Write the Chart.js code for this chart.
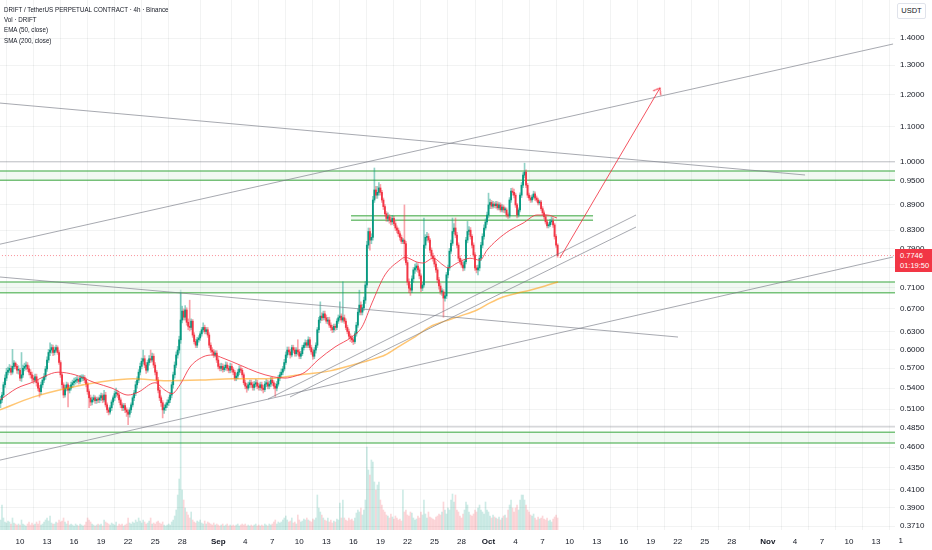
<!DOCTYPE html>
<html><head><meta charset="utf-8">
<script src="https://cdn.jsdelivr.net/npm/chart.js@4.4.1/dist/chart.umd.min.js"></script>
<style>
html,body{margin:0;padding:0;background:#fff;}
#wrap{position:relative;width:932px;height:550px;overflow:hidden;font-family:"Liberation Sans",Arial,sans-serif;}
#c{position:absolute;left:0;top:0;}
#hdr{position:absolute;left:4px;top:5px;font-size:7.6px;line-height:10.2px;color:#131722;white-space:nowrap;transform:scaleX(0.82);transform-origin:0 0;}
#unit{position:absolute;left:897px;top:3px;width:27px;height:14px;border:1px solid #e0e3eb;border-radius:2px;font-size:7.5px;line-height:14px;text-align:center;color:#131722;background:#fff;}
#plabel{position:absolute;left:895px;width:37px;height:23px;background:#f23645;color:#fff;font-size:7.5px;line-height:10px;padding:2px 0 0 5px;box-sizing:border-box;}
#cut{position:absolute;left:895px;width:8px;overflow:hidden;font-size:8px;line-height:10px;color:#131722;white-space:nowrap;}
#cut span{position:relative;}
</style></head><body>
<div id="wrap"><canvas id="c" width="932" height="550"></canvas>
<div id="hdr">DRIFT / TetherUS PERPETUAL CONTRACT · 4h · Binance<br>Vol · DRIFT<br>EMA (50, close)<br>SMA (200, close)</div>
<div id="unit">USDT</div>
<div id="plabel"><div id="pv"></div><div id="pt">01:19:50</div></div>
<div id="cut"><span id="cutl"></span></div>
</div>
<script>
// ---- time axis (days from Aug 10, 4h candles) ----
const firstCandleDay = -13/6;          // Aug 7, 20:00
const tickDays   = [0,3,6,9,12,15,18,22,25,28,31,34,37,40,43,46,49,52,55,58,61,64,67,70,73,76,79,83,86,89,92,95];
const tickLabels = ['10','13','16','19','22','25','28','Sep','4','7','10','13','16','19','22','25','28','Oct','4','7','10','13','16','19','22','25','28','Nov','4','7','10','13'];
const edgeTickDay = 98, edgeTickLabel = '16';   // cut off by the price scale
const priceTicks = [1.4,1.3,1.2,1.1,1.0,0.95,0.89,0.83,0.79,0.75,0.71,0.67,0.63,0.60,0.57,0.54,0.51,0.485,0.46,0.435,0.41,0.39,0.371];

// ---- candles ----
const opens = [
0.518,0.523,0.530,0.545,0.555,0.564, 0.567,0.570,0.564,0.573,0.578,0.573, 0.567,0.567,0.555,0.560,0.570,0.573,
0.575,0.569,0.564,0.560,0.555,0.552, 0.557,0.548,0.540,0.535,0.545,0.552, 0.557,0.569,0.583,0.595,0.599,0.603,
0.595,0.599,0.603,0.595,0.579,0.560, 0.545,0.530,0.540,0.545,0.537,0.540, 0.545,0.548,0.550,0.552,0.553,0.550,
0.555,0.555,0.556,0.552,0.546,0.535, 0.526,0.520,0.523,0.526,0.522,0.524, 0.523,0.526,0.529,0.523,0.530,0.516,
0.509,0.506,0.512,0.520,0.526,0.532, 0.533,0.530,0.523,0.516,0.512,0.515, 0.509,0.506,0.503,0.509,0.516,0.526,
0.533,0.545,0.552,0.564,0.573,0.581, 0.585,0.575,0.567,0.579,0.585,0.583, 0.589,0.575,0.564,0.552,0.537,0.526,
0.519,0.509,0.512,0.516,0.519,0.523, 0.530,0.545,0.560,0.575,0.591,0.599, 0.616,0.650,0.666,0.655,0.668,0.646,
0.639,0.637,0.648,0.624,0.613,0.607, 0.616,0.619,0.626,0.633,0.637,0.630, 0.633,0.624,0.607,0.599,0.596,0.591,
0.594,0.583,0.573,0.570,0.573,0.568, 0.571,0.575,0.570,0.567,0.573,0.568, 0.564,0.555,0.558,0.564,0.569,0.567,
0.560,0.548,0.543,0.540,0.545,0.548, 0.545,0.541,0.546,0.548,0.543,0.541, 0.545,0.540,0.538,0.546,0.548,0.543,
0.546,0.552,0.548,0.543,0.540,0.546, 0.555,0.560,0.564,0.569,0.579,0.591, 0.599,0.596,0.591,0.603,0.599,0.593,
0.599,0.596,0.589,0.593,0.603,0.607, 0.611,0.607,0.616,0.603,0.596,0.589, 0.599,0.607,0.633,0.650,0.657,0.654,
0.661,0.654,0.648,0.650,0.641,0.637, 0.633,0.639,0.637,0.648,0.654,0.657, 0.650,0.654,0.648,0.637,0.630,0.622,
0.619,0.616,0.613,0.626,0.641,0.664, 0.677,0.664,0.672,0.686,0.715,0.797, 0.827,0.808,0.814,0.901,0.926,0.913,
0.920,0.931,0.920,0.901,0.885,0.868, 0.857,0.861,0.853,0.849,0.857,0.845, 0.835,0.830,0.822,0.814,0.805,0.808,
0.800,0.760,0.721,0.709,0.705,0.727, 0.745,0.749,0.753,0.745,0.733,0.709, 0.715,0.797,0.814,0.816,0.808,0.786,
0.774,0.769,0.757,0.745,0.725,0.713, 0.702,0.702,0.690,0.694,0.735,0.749, 0.784,0.801,0.827,0.835,0.819,0.797,
0.769,0.762,0.755,0.749,0.762,0.808, 0.827,0.830,0.816,0.797,0.776,0.749, 0.745,0.749,0.769,0.797,0.816,0.835,
0.849,0.865,0.889,0.895,0.886,0.891, 0.887,0.891,0.882,0.889,0.877,0.884, 0.877,0.877,0.865,0.863,0.901,0.923,
0.920,0.913,0.889,0.865,0.877,0.913, 0.938,0.964,0.972,0.938,0.913,0.906, 0.901,0.908,0.916,0.906,0.901,0.894,
0.896,0.880,0.870,0.861,0.849,0.840, 0.842,0.849,0.851,0.842,0.816,0.797];
const highs = [
0.528,0.534,0.549,0.560,0.570,0.572, 0.576,0.574,0.600,0.582,0.580,0.576, 0.574,0.570,0.595,0.575,0.578,0.580,
0.579,0.574,0.568,0.564,0.559,0.561, 0.561,0.552,0.544,0.549,0.556,0.562, 0.573,0.588,0.600,0.611,0.608,0.607,
0.604,0.607,0.606,0.598,0.582,0.563, 0.548,0.544,0.549,0.548,0.544,0.549, 0.552,0.555,0.556,0.558,0.556,0.559,
0.560,0.560,0.559,0.555,0.549,0.538, 0.530,0.527,0.530,0.529,0.527,0.527, 0.530,0.533,0.532,0.537,0.534,0.519,
0.512,0.515,0.523,0.529,0.536,0.540, 0.537,0.533,0.526,0.519,0.518,0.518, 0.512,0.509,0.512,0.519,0.529,0.537,
0.550,0.557,0.568,0.578,0.586,0.599, 0.590,0.579,0.583,0.590,0.599,0.594, 0.593,0.579,0.567,0.556,0.541,0.529,
0.522,0.516,0.519,0.523,0.527,0.534, 0.549,0.564,0.580,0.596,0.605,0.622, 0.700,0.675,0.670,0.676,0.672,0.652,
0.686,0.652,0.651,0.628,0.617,0.620, 0.623,0.630,0.637,0.645,0.641,0.637, 0.637,0.628,0.611,0.603,0.600,0.598,
0.598,0.587,0.577,0.578,0.577,0.575, 0.580,0.579,0.574,0.578,0.577,0.571, 0.567,0.562,0.568,0.574,0.573,0.570,
0.563,0.552,0.547,0.549,0.552,0.552, 0.549,0.550,0.553,0.552,0.547,0.549, 0.549,0.544,0.550,0.553,0.552,0.550,
0.556,0.556,0.551,0.547,0.550,0.559, 0.564,0.569,0.573,0.584,0.596,0.604, 0.604,0.600,0.607,0.607,0.603,0.603,
0.616,0.600,0.597,0.607,0.611,0.616, 0.615,0.621,0.620,0.607,0.600,0.603, 0.611,0.637,0.655,0.683,0.663,0.666,
0.666,0.659,0.655,0.655,0.645,0.641, 0.643,0.643,0.652,0.659,0.683,0.661, 0.721,0.659,0.652,0.641,0.634,0.626,
0.623,0.620,0.630,0.646,0.670,0.705, 0.683,0.678,0.692,0.722,0.805,0.835, 0.835,0.822,0.910,0.983,0.935,0.935,
0.945,0.940,0.925,0.906,0.890,0.873, 0.870,0.866,0.860,0.864,0.862,0.850, 0.840,0.835,0.827,0.819,0.812,0.889,
0.805,0.765,0.727,0.716,0.733,0.750, 0.757,0.760,0.758,0.749,0.737,0.720, 0.858,0.820,0.825,0.822,0.812,0.791,
0.780,0.774,0.762,0.750,0.730,0.718, 0.708,0.706,0.700,0.740,0.755,0.790, 0.808,0.858,0.845,0.858,0.825,0.802,
0.774,0.768,0.760,0.767,0.814,0.850, 0.838,0.836,0.820,0.802,0.781,0.754, 0.755,0.775,0.803,0.822,0.842,0.856,
0.872,0.918,0.903,0.900,0.898,0.896, 0.898,0.897,0.895,0.894,0.890,0.889, 0.884,0.882,0.870,0.907,0.930,0.931,
0.928,0.918,0.893,0.882,0.919,0.945, 0.971,0.996,0.978,0.943,0.918,0.912, 0.914,0.923,0.921,0.911,0.906,0.901,
0.900,0.885,0.875,0.866,0.853,0.847, 0.855,0.860,0.858,0.846,0.820,0.800];
const lows = [
0.512,0.519,0.527,0.541,0.551,0.560, 0.563,0.560,0.561,0.569,0.569,0.562, 0.561,0.551,0.550,0.556,0.566,0.568,
0.565,0.560,0.555,0.550,0.547,0.549, 0.543,0.536,0.527,0.531,0.541,0.548, 0.553,0.565,0.579,0.590,0.594,0.590,
0.591,0.596,0.592,0.576,0.556,0.540, 0.526,0.527,0.536,0.513,0.533,0.537, 0.541,0.544,0.546,0.548,0.546,0.547,
0.550,0.551,0.548,0.542,0.531,0.512, 0.515,0.516,0.520,0.518,0.518,0.519, 0.519,0.522,0.519,0.520,0.513,0.505,
0.502,0.503,0.508,0.516,0.522,0.528, 0.526,0.519,0.512,0.508,0.508,0.505, 0.500,0.489,0.499,0.505,0.513,0.522,
0.529,0.540,0.548,0.560,0.569,0.577, 0.571,0.562,0.564,0.575,0.579,0.580, 0.571,0.560,0.548,0.533,0.522,0.514,
0.498,0.504,0.508,0.512,0.515,0.519, 0.526,0.540,0.555,0.571,0.586,0.594, 0.610,0.645,0.650,0.650,0.641,0.633,
0.631,0.633,0.620,0.609,0.603,0.603, 0.612,0.615,0.622,0.629,0.626,0.626, 0.620,0.603,0.595,0.591,0.587,0.588,
0.579,0.569,0.566,0.566,0.564,0.565, 0.567,0.566,0.563,0.563,0.564,0.560, 0.551,0.551,0.554,0.560,0.563,0.556,
0.545,0.539,0.534,0.537,0.541,0.541, 0.537,0.537,0.542,0.539,0.537,0.537, 0.536,0.533,0.535,0.542,0.539,0.539,
0.542,0.544,0.539,0.528,0.536,0.543, 0.551,0.556,0.560,0.566,0.576,0.587, 0.592,0.586,0.588,0.595,0.589,0.589,
0.591,0.585,0.585,0.590,0.599,0.603, 0.603,0.603,0.599,0.592,0.584,0.585, 0.594,0.603,0.628,0.645,0.649,0.650,
0.650,0.644,0.643,0.637,0.632,0.628, 0.629,0.632,0.633,0.644,0.650,0.646, 0.646,0.644,0.633,0.626,0.618,0.613,
0.611,0.608,0.610,0.622,0.637,0.659, 0.659,0.659,0.667,0.680,0.710,0.790, 0.786,0.800,0.808,0.895,0.905,0.905,
0.913,0.913,0.895,0.878,0.862,0.850, 0.850,0.846,0.842,0.843,0.840,0.829, 0.824,0.816,0.808,0.800,0.800,0.765,
0.755,0.715,0.700,0.695,0.700,0.720, 0.738,0.742,0.740,0.727,0.702,0.704, 0.711,0.790,0.806,0.803,0.781,0.768,
0.763,0.751,0.740,0.719,0.707,0.697, 0.695,0.655,0.684,0.689,0.729,0.744, 0.779,0.796,0.822,0.813,0.791,0.764,
0.757,0.750,0.743,0.744,0.757,0.802, 0.820,0.810,0.791,0.771,0.744,0.739, 0.735,0.743,0.764,0.791,0.810,0.830,
0.843,0.858,0.880,0.880,0.881,0.882, 0.881,0.877,0.877,0.872,0.872,0.871, 0.870,0.860,0.857,0.858,0.895,0.913,
0.906,0.883,0.858,0.860,0.872,0.907, 0.932,0.957,0.932,0.907,0.900,0.895, 0.896,0.903,0.900,0.896,0.889,0.889,
0.876,0.865,0.856,0.844,0.835,0.835, 0.838,0.843,0.836,0.810,0.792,0.771];
const closes = [
0.523,0.530,0.545,0.555,0.564,0.567, 0.570,0.564,0.573,0.578,0.573,0.567, 0.567,0.555,0.560,0.570,0.573,0.575,
0.569,0.564,0.560,0.555,0.552,0.557, 0.548,0.540,0.535,0.545,0.552,0.557, 0.569,0.583,0.595,0.599,0.603,0.595,
0.599,0.603,0.595,0.579,0.560,0.545, 0.530,0.540,0.545,0.537,0.540,0.545, 0.548,0.550,0.552,0.553,0.550,0.555,
0.555,0.556,0.552,0.546,0.535,0.526, 0.520,0.523,0.526,0.522,0.524,0.523, 0.526,0.529,0.523,0.530,0.516,0.509,
0.506,0.512,0.520,0.526,0.532,0.533, 0.530,0.523,0.516,0.512,0.515,0.509, 0.506,0.503,0.509,0.516,0.526,0.533,
0.545,0.552,0.564,0.573,0.581,0.585, 0.575,0.567,0.579,0.585,0.583,0.589, 0.575,0.564,0.552,0.537,0.526,0.519,
0.509,0.512,0.516,0.519,0.523,0.530, 0.545,0.560,0.575,0.591,0.599,0.616, 0.650,0.666,0.655,0.668,0.646,0.639,
0.637,0.648,0.624,0.613,0.607,0.616, 0.619,0.626,0.633,0.637,0.630,0.633, 0.624,0.607,0.599,0.596,0.591,0.594,
0.583,0.573,0.570,0.573,0.568,0.571, 0.575,0.570,0.567,0.573,0.568,0.564, 0.555,0.558,0.564,0.569,0.567,0.560,
0.548,0.543,0.540,0.545,0.548,0.545, 0.541,0.546,0.548,0.543,0.541,0.545, 0.540,0.538,0.546,0.548,0.543,0.546,
0.552,0.548,0.543,0.540,0.546,0.555, 0.560,0.564,0.569,0.579,0.591,0.599, 0.596,0.591,0.603,0.599,0.593,0.599,
0.596,0.589,0.593,0.603,0.607,0.611, 0.607,0.616,0.603,0.596,0.589,0.599, 0.607,0.633,0.650,0.657,0.654,0.661,
0.654,0.648,0.650,0.641,0.637,0.633, 0.639,0.637,0.648,0.654,0.657,0.650, 0.654,0.648,0.637,0.630,0.622,0.619,
0.616,0.613,0.626,0.641,0.664,0.677, 0.664,0.672,0.686,0.715,0.797,0.827, 0.808,0.814,0.901,0.926,0.913,0.920,
0.931,0.920,0.901,0.885,0.868,0.857, 0.861,0.853,0.849,0.857,0.845,0.835, 0.830,0.822,0.814,0.805,0.808,0.800,
0.760,0.721,0.709,0.705,0.727,0.745, 0.749,0.753,0.745,0.733,0.709,0.715, 0.797,0.814,0.816,0.808,0.786,0.774,
0.769,0.757,0.745,0.725,0.713,0.702, 0.702,0.690,0.694,0.735,0.749,0.784, 0.801,0.827,0.835,0.819,0.797,0.769,
0.762,0.755,0.749,0.762,0.808,0.827, 0.830,0.816,0.797,0.776,0.749,0.745, 0.749,0.769,0.797,0.816,0.835,0.849,
0.865,0.889,0.895,0.886,0.891,0.887, 0.891,0.882,0.889,0.877,0.884,0.877, 0.877,0.865,0.863,0.901,0.923,0.920,
0.913,0.889,0.865,0.877,0.913,0.938, 0.964,0.972,0.938,0.913,0.906,0.901, 0.908,0.916,0.906,0.901,0.894,0.896,
0.880,0.870,0.861,0.849,0.840,0.842, 0.849,0.851,0.842,0.816,0.797,0.7746];
const volumes = [
10,25,12,8,7,9, 8,6,12,7,6,5, 6,5,10,6,5,4, 6,8,5,7,5,6, 8,6,9,5,6,8, 10,12,9,14,7,6,
6,8,7,10,8,9, 12,8,6,9,5,6, 5,4,6,5,4,6, 5,4,5,8,12,10, 8,6,5,4,5,6, 5,6,4,10,8,7,
6,5,7,6,5,8, 4,6,5,6,4,5, 6,12,7,6,8,7, 10,8,12,9,7,10, 8,6,7,9,12,6, 7,6,8,9,7,6,
8,5,4,5,6,5, 8,10,14,20,35,51, 240,40,30,22,18,15, 12,18,10,8,7,9, 8,10,7,6,9,6, 8,7,6,5,7,5,
6,5,4,5,6,4, 5,6,4,5,4,5, 4,5,6,4,5,6, 5,6,4,5,4,5, 4,5,6,4,5,4, 5,4,6,5,4,6,
5,6,8,10,6,8, 7,8,10,12,14,10, 8,9,12,7,8,6, 15,10,8,9,11,10, 12,10,9,8,11,10, 12,35,22,18,15,12,
10,9,12,8,10,7, 9,8,11,10,27,12, 30,12,10,9,12,10, 11,9,12,17,20,18, 22,15,20,30,83,60, 55,70,68,48,40,45,
48,30,25,20,18,15, 14,12,16,13,11,14, 12,10,11,9,40,18, 20,15,14,18,17,12, 10,11,14,12,18,15, 30,16,12,18,13,12,
11,10,13,14,16,15, 18,28,20,16,22,20, 30,36,28,35,20,18, 14,12,16,20,28,25, 18,15,14,16,20,18, 22,25,20,18,16,28,
20,18,14,12,15,13, 12,11,13,10,12,14, 15,12,20,25,30,22, 18,22,25,20,30,35, 35,30,25,20,18,15, 14,16,12,10,13,11,
12,14,11,10,12,9, 10,8,11,13,15,12];

// ---- indicators (day, price) ----
const emaDays = [-2.22,-0.33,1.44,2.77,4.22,6.10,8.32,10.21,11.99,13.10,14.98,16.09,16.87,17.76,18.87,20.31,21.42,22.53,24.42,26.30,28.08,29.41,30.52,31.63,33.07,34.96,36.85,37.96,39.07,40.51,42.18,42.73,44.06,44.73,45.84,46.95,47.50,48.50,49.94,51.05,51.83,52.94,54.38,55.83,57.38,58.49,59.60];
const emaVals = [0.523,0.540,0.549,0.558,0.564,0.560,0.548,0.540,0.530,0.534,0.548,0.537,0.532,0.545,0.572,0.588,0.591,0.586,0.575,0.564,0.557,0.555,0.558,0.564,0.583,0.604,0.621,0.638,0.681,0.735,0.765,0.771,0.761,0.759,0.769,0.755,0.749,0.759,0.769,0.765,0.786,0.808,0.830,0.846,0.865,0.865,0.858];
const smaDays = [-2.22,1.44,5.22,8.88,12.54,16.32,19.98,23.64,27.41,31.08,34.41,36.63,38.85,40.51,42.18,43.84,45.50,47.17,48.83,50.72,52.16,53.61,55.16,56.60,58.27,59.71];
const smaVals = [0.509,0.527,0.540,0.549,0.554,0.551,0.552,0.554,0.554,0.560,0.566,0.574,0.583,0.591,0.606,0.621,0.638,0.648,0.657,0.668,0.681,0.692,0.699,0.705,0.713,0.721];

// ---- drawings: [day1, price1, day2, price2] ----
const trendLines = [
  [-2.22,0.799, 96.9,1.3775],
  [-2.22,1.173, 87.13,0.9645],
  [-2.22,0.7307, 73.03,0.6206],
  [-2.22,0.444, 96.9,0.7716],
  [27.53,0.5243, 68.37,0.865],
  [29.97,0.5272, 68.37,0.8372]
];
const levelLines = [1.0, 0.4865];
const zones = [ // [dayFrom, dayTo, top, bottom]
  [-3,100,0.975,0.951],
  [-3,100,0.721,0.700],
  [-3,100,0.479,0.465],
  [36.74,63.6,0.863,0.853]
];
const arrowLine = [59.93,0.7695, 71.03,1.222];
const lastPrice = 0.7746;

// ---- build ----
const UP='#089981', DN='#f23645';
const candleDays = closes.map((_,i)=>firstCandleDay + i/6);
const isUp = closes.map((c,i)=>c>=opens[i]);
const monthTicks = new Set([22,52,83]);

const ds = [];
zones.forEach(z=>{
  ds.push({type:'line',data:[{x:z[0],y:z[2]},{x:z[1],y:z[2]}],borderColor:'rgba(76,175,80,0.75)',borderWidth:1.5,pointRadius:0,
    fill:{value:z[3]},backgroundColor:'rgba(76,175,80,0.07)',order:20});
  ds.push({type:'line',data:[{x:z[0],y:z[3]},{x:z[1],y:z[3]}],borderColor:'rgba(76,175,80,0.75)',borderWidth:1.5,pointRadius:0,fill:false,order:20});
});
levelLines.forEach(v=>{
  ds.push({type:'line',data:[{x:-3,y:v},{x:100,y:v}],borderColor:'rgba(120,123,134,0.3)',borderWidth:1.5,pointRadius:0,fill:false,order:19});
});
ds.push({type:'line',data:[{x:-3,y:lastPrice},{x:100,y:lastPrice}],borderColor:'rgba(242,54,69,0.55)',borderWidth:1,borderDash:[1,2],pointRadius:0,fill:false,order:18});
ds.push({type:'bar',yAxisID:'yv',data:candleDays.map((d,i)=>({x:d,y:volumes[i]})),
  backgroundColor:isUp.map(u=>u?'rgba(8,153,129,0.2)':'rgba(242,54,69,0.2)'),barThickness:1,grouped:false,order:17});
ds.push({type:'bar',yAxisID:'y',data:candleDays.map((d,i)=>({x:d,y:[Math.min(lows[i],opens[i],closes[i]),Math.max(highs[i],opens[i],closes[i])]})),
  backgroundColor:isUp.map(u=>u?'rgba(8,153,129,0.45)':'rgba(242,54,69,0.45)'),barThickness:1,grouped:false,order:12});
ds.push({type:'bar',yAxisID:'y',data:candleDays.map((d,i)=>({x:d,y:[opens[i],closes[i]]})),
  backgroundColor:isUp.map(u=>u?UP:DN),barThickness:1.2,minBarLength:1,grouped:false,order:11});
ds.push({type:'line',data:emaDays.map((d,i)=>({x:d,y:emaVals[i]})),borderColor:'rgba(242,54,69,0.85)',borderWidth:1,pointRadius:0,cubicInterpolationMode:'monotone',fill:false,order:8});
ds.push({type:'line',data:smaDays.map((d,i)=>({x:d,y:smaVals[i]})),borderColor:'rgba(255,152,0,0.55)',borderWidth:1.5,pointRadius:0,cubicInterpolationMode:'monotone',fill:false,order:9});
trendLines.forEach(t=>{
  ds.push({type:'line',data:[{x:t[0],y:t[1]},{x:t[2],y:t[3]}],borderColor:'rgba(120,123,134,0.65)',borderWidth:1,pointRadius:0,fill:false,order:5});
});
function chevron(color){
  const c=document.createElement('canvas');c.width=20;c.height=20;
  const g=c.getContext('2d');g.strokeStyle=color;g.lineWidth=1.2;
  g.beginPath();g.moveTo(5.5,16);g.lineTo(10,10);g.lineTo(14.5,16);g.stroke();return c;
}
ds.push({type:'line',data:[{x:arrowLine[0],y:arrowLine[1]},{x:arrowLine[2],y:arrowLine[3]}],borderColor:'rgba(242,54,69,0.85)',borderWidth:1,
  pointRadius:[0,6],pointStyle:chevron('rgba(242,54,69,0.9)'),
  pointRotation:(ctx)=>{const xs=ctx.chart.scales.x, ys=ctx.chart.scales.y;
    const dx=xs.getPixelForValue(arrowLine[2])-xs.getPixelForValue(arrowLine[0]);
    const dy=ys.getPixelForValue(arrowLine[3])-ys.getPixelForValue(arrowLine[1]);
    return Math.atan2(dx,-dy)*180/Math.PI;},fill:false,order:4});

Chart.defaults.font.family='"Liberation Sans", Arial, sans-serif';
const chart = new Chart(document.getElementById('c'),{
  type:'bar',
  data:{datasets:ds},
  options:{
    responsive:false,animation:false,devicePixelRatio:1,
    layout:{padding:0,autoPadding:false},
    plugins:{legend:{display:false},tooltip:{enabled:false}},
    scales:{
      x:{type:'linear',position:'bottom',min:-20/9.01,max:-20/9.01+895/9.01,offset:false,
        grid:{color:'rgba(42,46,57,0.06)',drawTicks:false},border:{display:false},
        afterBuildTicks:(s)=>{s.ticks=tickDays.map(v=>({value:v}));},
        afterFit:(s)=>{s.height=20;s.paddingLeft=0;s.paddingRight=0;},
        ticks:{autoSkip:false,maxRotation:0,padding:7,color:'#131722',
          font:(c)=>({size:8,weight:(c.tick&&monthTicks.has(c.tick.value))?'bold':'normal'}),
          callback:(v)=>{const k=tickDays.indexOf(v);return k>=0?tickLabels[k]:'';}}},
      y:{type:'logarithmic',position:'right',min:0.3671,max:1.5527,
        grid:{color:'rgba(42,46,57,0.06)',drawTicks:false},border:{display:false},
        afterBuildTicks:(s)=>{s.ticks=priceTicks.map(v=>({value:v}));},
        afterFit:(s)=>{s.width=37;s.paddingTop=0;s.paddingBottom=0;},
        ticks:{autoSkip:false,padding:5,color:'#131722',font:{size:8},callback:(v)=>Number(v).toFixed(4)}},
      yv:{type:'linear',display:false,min:0,max:530}
    }
  }
});
const yp = chart.scales.y.getPixelForValue(lastPrice);
const pl = document.getElementById('plabel');
pl.style.top = (yp-7)+'px';
document.getElementById('pv').textContent = lastPrice.toFixed(4);
// time label that is half hidden by the price scale
const cut = document.getElementById('cut'), cutl = document.getElementById('cutl');
cutl.textContent = edgeTickLabel;
const ex = chart.scales.x.getPixelForValue(edgeTickDay);
cut.style.top = (chart.chartArea.bottom + 6) + 'px';
cutl.style.left = (ex - chart.chartArea.right - cutl.offsetWidth/2) + 'px';
</script>
</body></html>
